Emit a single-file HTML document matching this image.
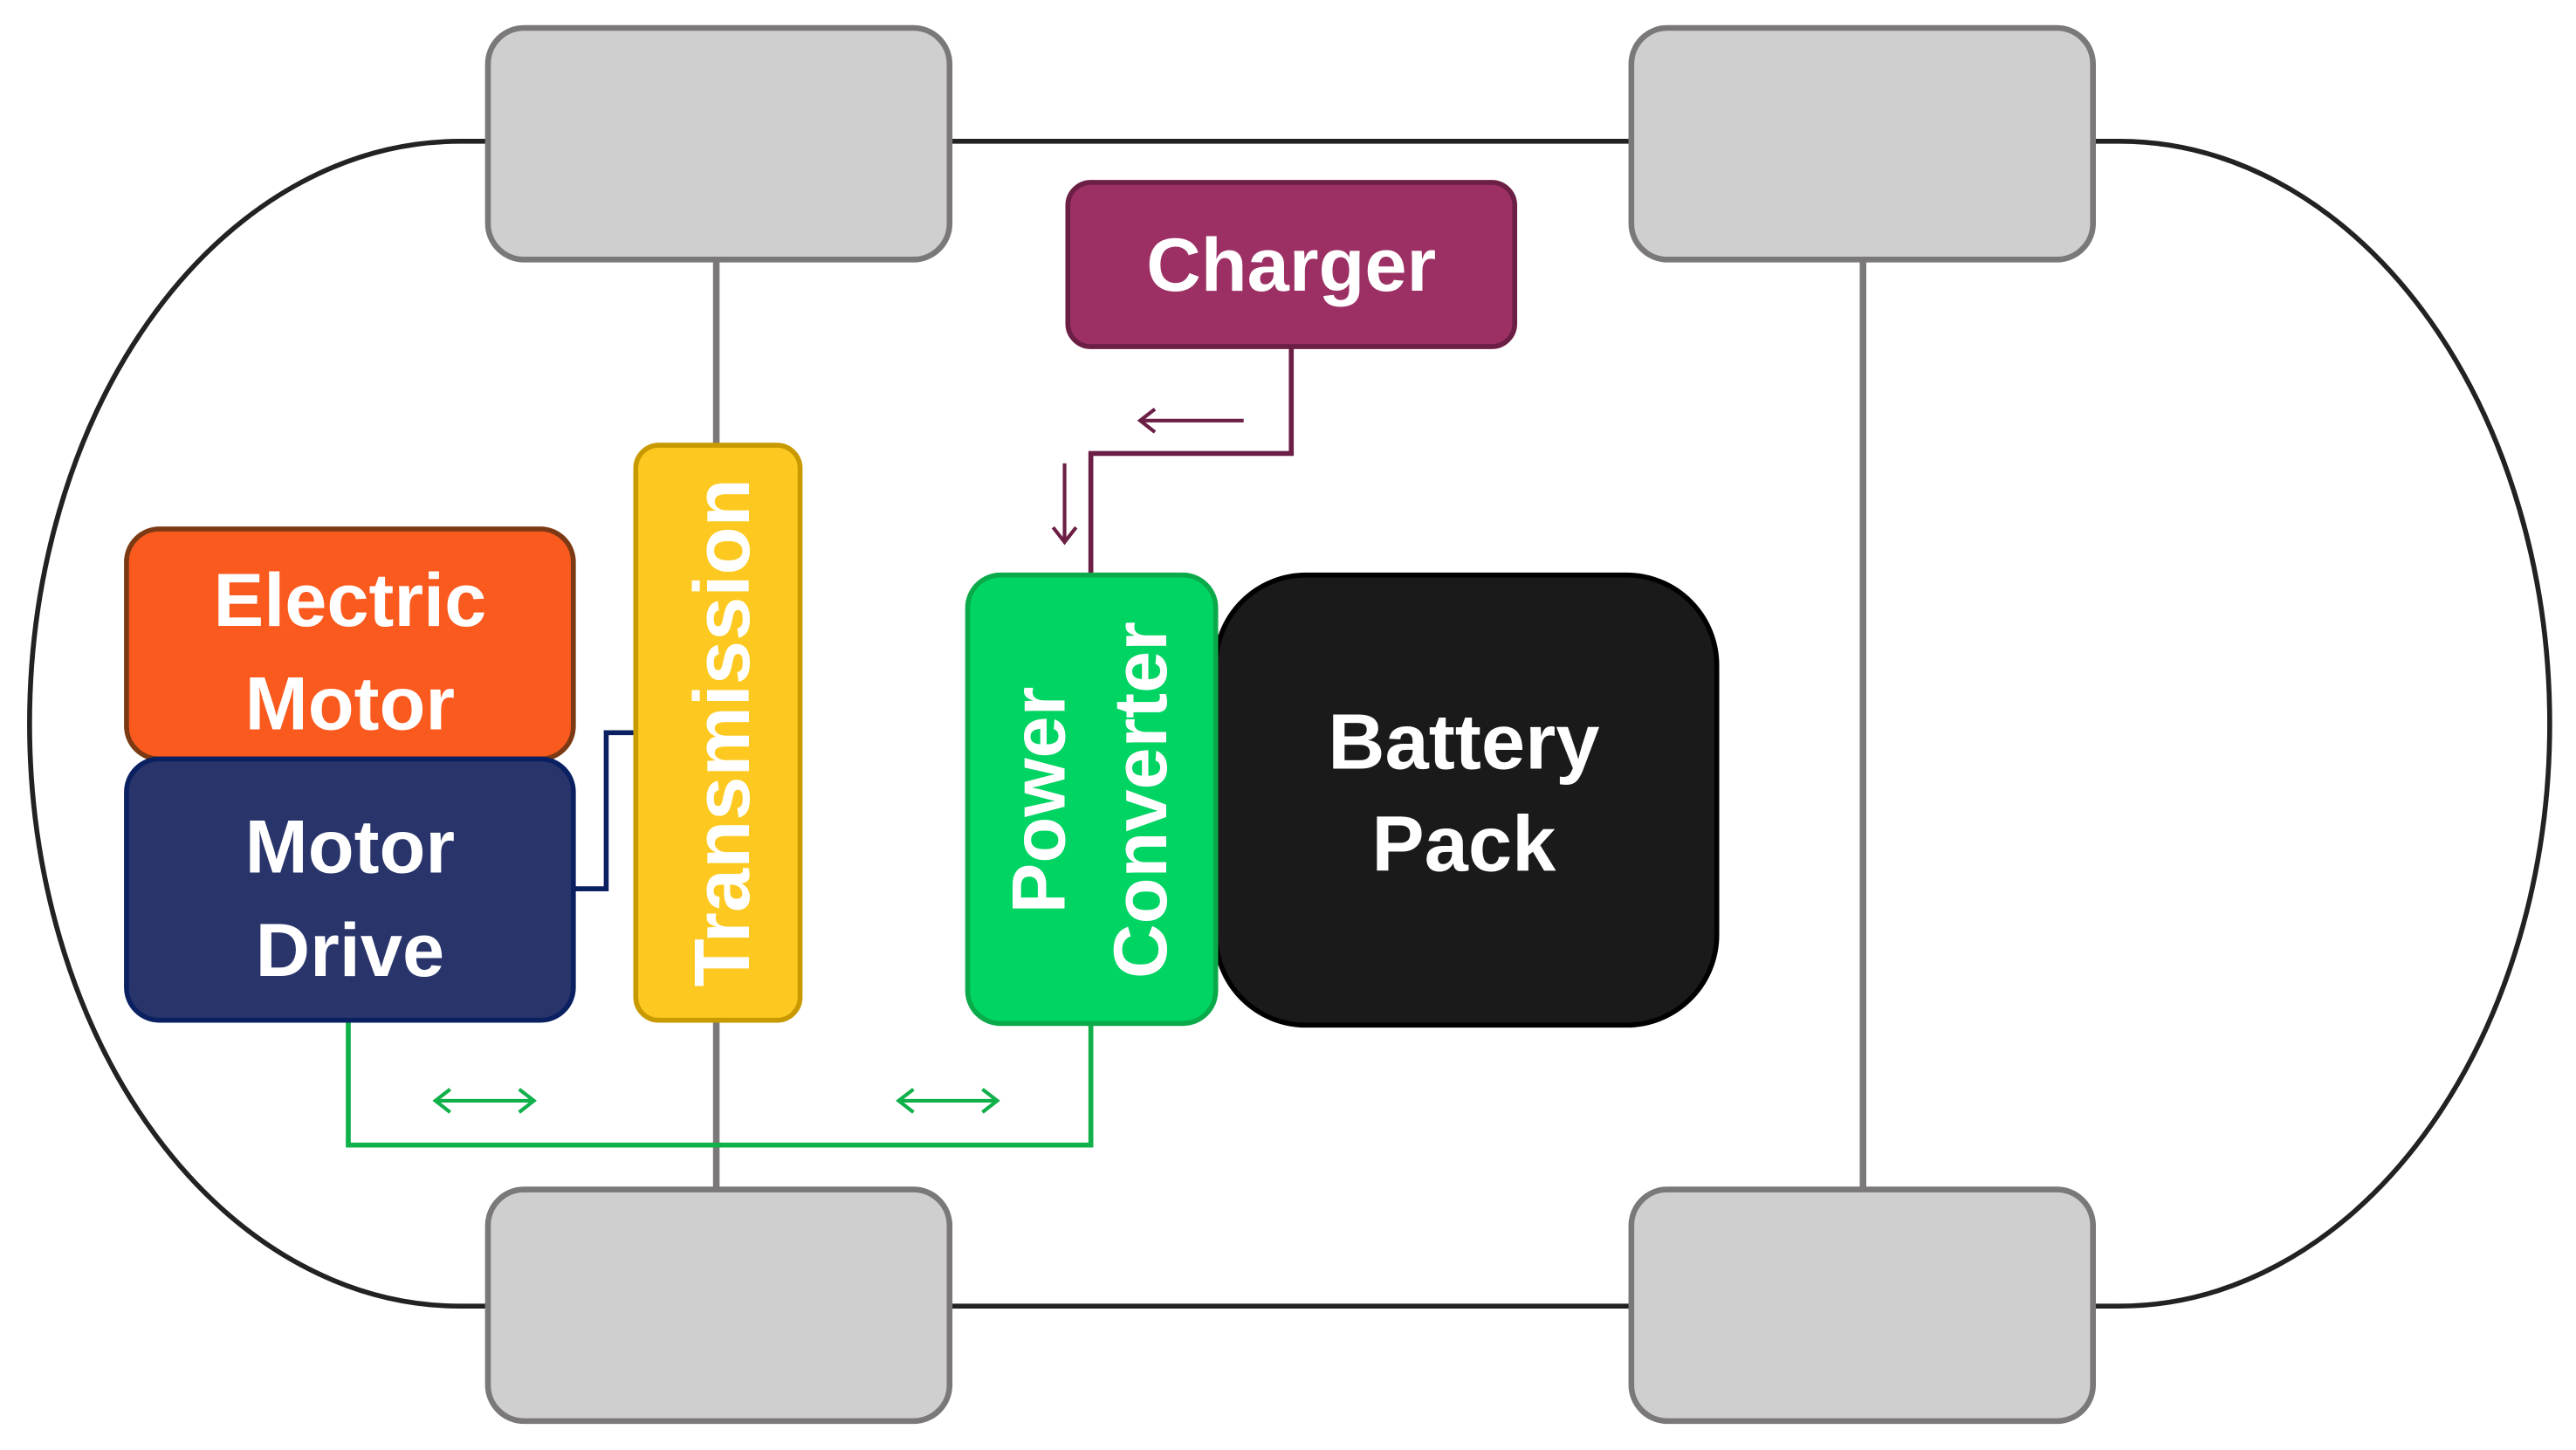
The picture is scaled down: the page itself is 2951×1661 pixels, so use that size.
<!DOCTYPE html>
<html><head><meta charset="utf-8"><style>
html,body{margin:0;padding:0;background:#fff;}
svg{display:block;}
text{font-family:"Liberation Sans",sans-serif;font-weight:bold;fill:#fff;}
</style></head><body>
<svg width="2951" height="1661" viewBox="0 0 1568 882.6" preserveAspectRatio="none" xmlns="http://www.w3.org/2000/svg">
<!-- car body -->
<path d="M300,86 L280,86 A262,354.5 0 0 0 280,795 L300,795" fill="none" stroke="#222" stroke-width="3"/>
<path d="M1270,86 L1290,86 A262,354.5 0 0 1 1290,795 L1270,795" fill="none" stroke="#222" stroke-width="3"/>
<line x1="578" y1="86" x2="993" y2="86" stroke="#222" stroke-width="3"/>
<line x1="578" y1="795" x2="993" y2="795" stroke="#222" stroke-width="3"/>
<!-- axles -->
<line x1="436" y1="158" x2="436" y2="724" stroke="#7a7878" stroke-width="4"/>
<line x1="1134" y1="158" x2="1134" y2="724" stroke="#7a7878" stroke-width="4"/>
<!-- wheels -->
<g fill="#d0cfd0" stroke="#7a7878" stroke-width="3.5">
<rect x="297" y="17" width="281" height="141" rx="22"/>
<rect x="993" y="17" width="281" height="141" rx="22"/>
<rect x="297" y="724" width="281" height="141" rx="22"/>
<rect x="993" y="724" width="281" height="141" rx="22"/>
</g>
<!-- green line -->
<polyline points="212,621 212,697 664,697 664,623" fill="none" stroke="#10b04a" stroke-width="3"/>
<g fill="none" stroke="#10b04a" stroke-width="2.2">
<line x1="265" y1="670" x2="325" y2="670"/>
<polyline points="274,663 265,670 274,677"/>
<polyline points="316,663 325,670 316,677"/>
<line x1="547" y1="670" x2="607" y2="670"/>
<polyline points="556,663 547,670 556,677"/>
<polyline points="598,663 607,670 598,677"/>
</g>
<!-- charger line -->
<polyline points="786,211 786,276 664,276 664,352" fill="none" stroke="#6b1f44" stroke-width="3"/>
<g fill="none" stroke="#6b1f44" stroke-width="2.2">
<line x1="757" y1="256" x2="694" y2="256"/>
<polyline points="703,249 694,256 703,263"/>
<line x1="648" y1="282" x2="648" y2="330"/>
<polyline points="641,321 648,330 655,321"/>
</g>
<!-- navy connector -->
<polyline points="349,541 369,541 369,446 388,446" fill="none" stroke="#0a2060" stroke-width="3"/>
<!-- charger -->
<rect x="650" y="111" width="272" height="100" rx="14" fill="#9c3064" stroke="#6b1f44" stroke-width="3"/>
<text x="786" y="177" font-size="46" text-anchor="middle">Charger</text>
<!-- transmission -->
<rect x="387" y="271" width="100" height="350" rx="14" fill="#fdc921" stroke="#c99a00" stroke-width="3"/>
<text transform="translate(456,446) rotate(-90)" font-size="48" text-anchor="middle">Transmission</text>
<!-- electric motor -->
<rect x="77" y="322" width="272" height="140" rx="20" fill="#fa5a1e" stroke="#7b3a14" stroke-width="3"/>
<text x="213" y="381" font-size="46" text-anchor="middle">Electric</text>
<text x="213" y="444" font-size="46" text-anchor="middle">Motor</text>
<!-- motor drive -->
<rect x="77" y="462" width="272" height="159" rx="20" fill="#29346b" stroke="#0a2060" stroke-width="3"/>
<text x="213" y="531" font-size="46" text-anchor="middle">Motor</text>
<text x="213" y="594" font-size="46" text-anchor="middle">Drive</text>
<!-- battery -->
<rect x="740" y="350" width="305" height="274" rx="55" fill="#1a1a1a" stroke="#000" stroke-width="3"/>
<text x="891" y="468" font-size="48" text-anchor="middle">Battery</text>
<text x="891" y="530" font-size="48" text-anchor="middle">Pack</text>
<!-- power converter -->
<rect x="589" y="350" width="151" height="273" rx="20" fill="#00d462" stroke="#0aaa4a" stroke-width="3"/>
<text transform="translate(648,487) rotate(-90)" font-size="46" text-anchor="middle">Power</text>
<text transform="translate(710,487) rotate(-90)" font-size="46" text-anchor="middle">Converter</text>
</svg>
</body></html>
